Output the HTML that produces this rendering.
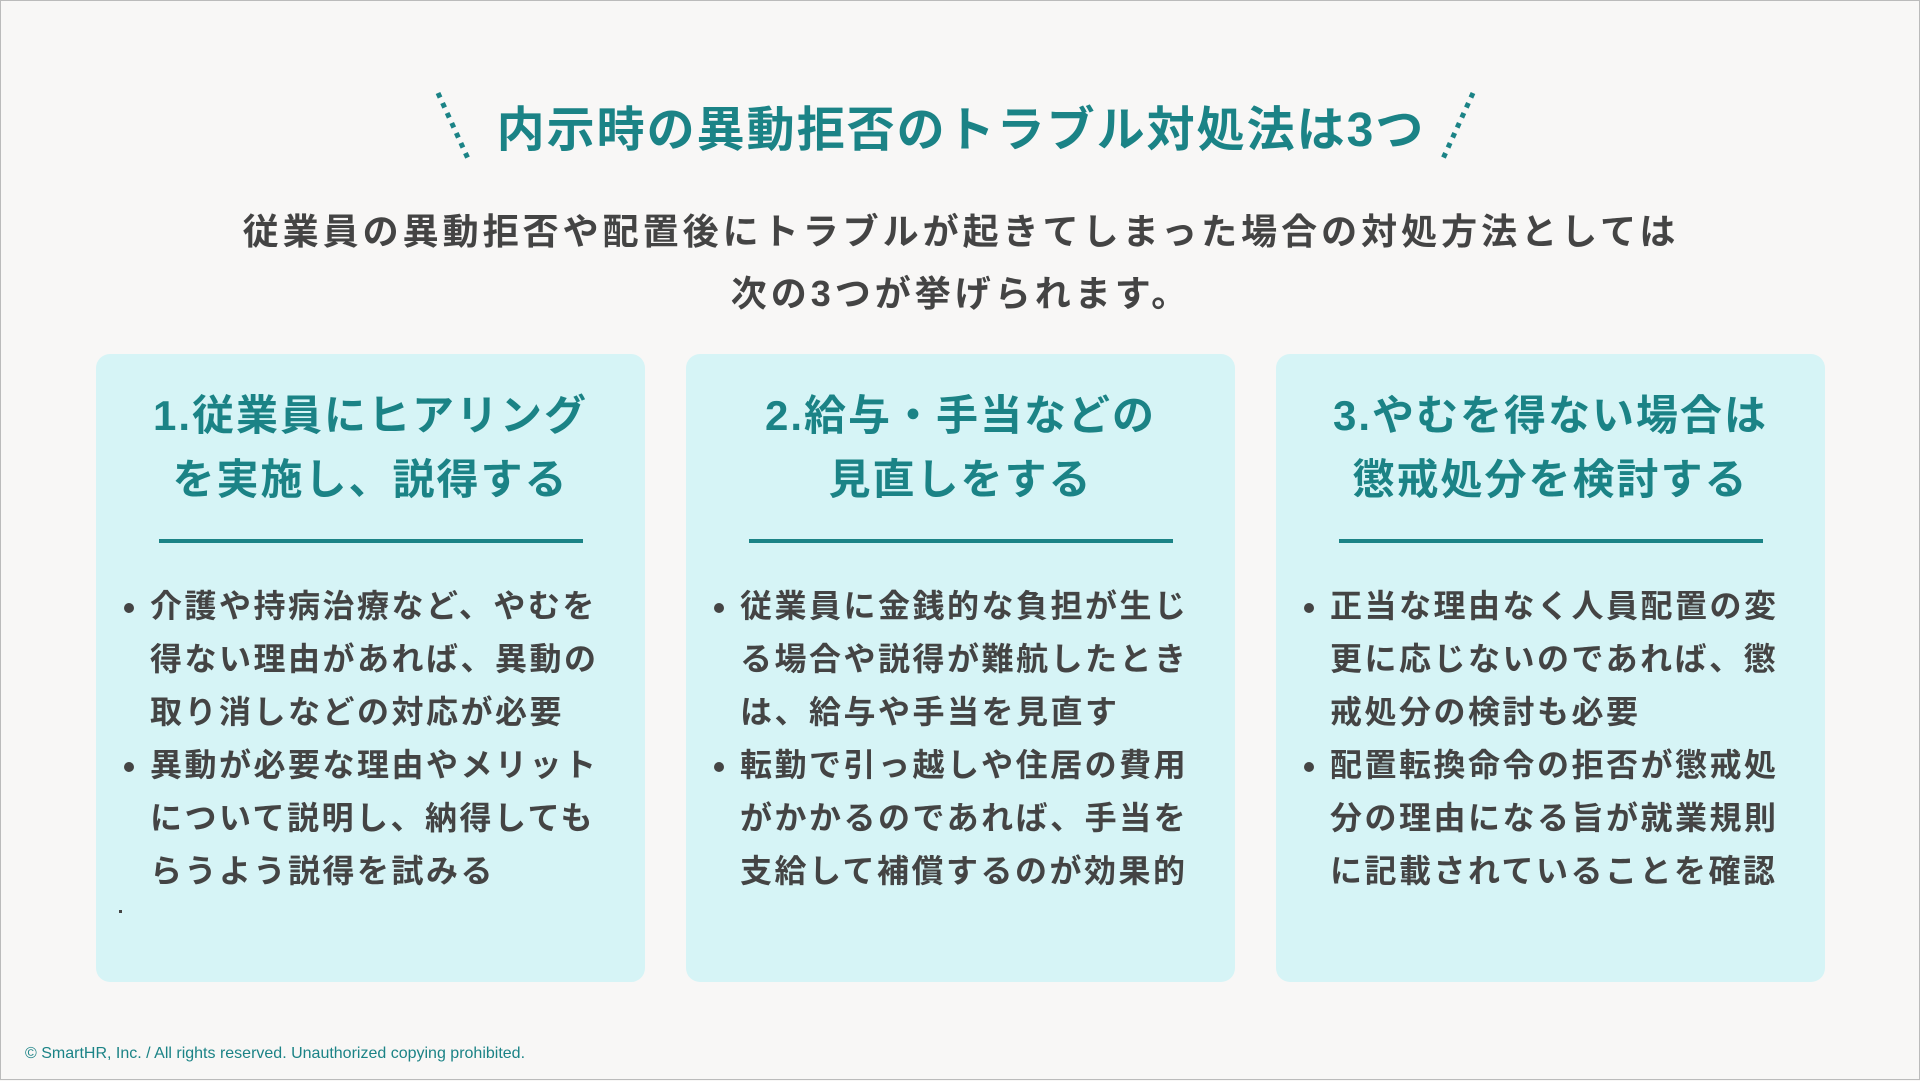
<!DOCTYPE html>
<html><head><meta charset="utf-8"><style>
*{margin:0;padding:0;box-sizing:border-box}
body{width:1920px;height:1080px;background:#f8f7f6;position:relative;overflow:hidden;font-family:"Liberation Sans","Noto Sans CJK JP",sans-serif;border:1px solid #bbb}
.title{position:absolute;left:0;width:1920px;top:89px;text-align:center;color:#1b8386;font-size:48px;font-weight:bold;letter-spacing:2px}
.sub{position:absolute;left:0;width:1920px;top:200px;text-align:center;color:#444;font-size:36px;font-weight:bold;letter-spacing:4px;line-height:62px}
.card{position:absolute;top:353px;width:549px;height:628px;background:#d6f4f6;border-radius:14px}
.h{position:absolute;left:0;width:100%;top:30px;text-align:center;color:#1b8386;font-size:42px;font-weight:bold;line-height:64px;letter-spacing:2px}
.line{position:absolute;left:63px;width:424px;top:185px;height:4px;background:#1b8386}
ul{position:absolute;left:29px;top:226px;list-style:none;color:#444;font-size:32px;font-weight:bold;line-height:53px;letter-spacing:2.5px}
li{position:relative;padding-left:25px}
li:before{content:"";position:absolute;left:-1px;top:23px;width:10px;height:10px;border-radius:50%;background:#444}
.foot{position:absolute;left:24px;top:1044px;color:#1b8386;font-size:16px}
</style></head><body>
<svg width="1920" height="1080" style="position:absolute;left:0;top:0">
<line x1="437" y1="92" x2="469" y2="162" stroke="#1b8386" stroke-width="5" stroke-dasharray="5 6"/>
<line x1="1472" y1="92" x2="1440" y2="162" stroke="#1b8386" stroke-width="5" stroke-dasharray="5 6"/>
</svg>
<div class="title">内示時の異動拒否のトラブル対処法は3つ</div>
<div class="sub">従業員の異動拒否や配置後にトラブルが起きてしまった場合の対処方法としては<br>次の3つが挙げられます。</div>
<div class="card" style="left:95px"><div class="h">1.従業員にヒアリング<br>を実施し、説得する</div><div class="line"></div>
<ul><li>介護や持病治療など、やむを<br>得ない理由があれば、異動の<br>取り消しなどの対応が必要</li><li>異動が必要な理由やメリット<br>について説明し、納得しても<br>らうよう説得を試みる</li></ul>
<div style="position:absolute;left:23px;top:556px;width:3px;height:3px;background:#444"></div></div>
<div class="card" style="left:685px"><div class="h">2.給与・手当などの<br>見直しをする</div><div class="line"></div>
<ul><li>従業員に金銭的な負担が生じ<br>る場合や説得が難航したとき<br>は、給与や手当を見直す</li><li>転勤で引っ越しや住居の費用<br>がかかるのであれば、手当を<br>支給して補償するのが効果的</li></ul></div>
<div class="card" style="left:1275px"><div class="h">3.やむを得ない場合は<br>懲戒処分を検討する</div><div class="line"></div>
<ul><li>正当な理由なく人員配置の変<br>更に応じないのであれば、懲<br>戒処分の検討も必要</li><li>配置転換命令の拒否が懲戒処<br>分の理由になる旨が就業規則<br>に記載されていることを確認</li></ul></div>
<div class="foot">© SmartHR, Inc. / All rights reserved. Unauthorized copying prohibited.</div>
</body></html>
